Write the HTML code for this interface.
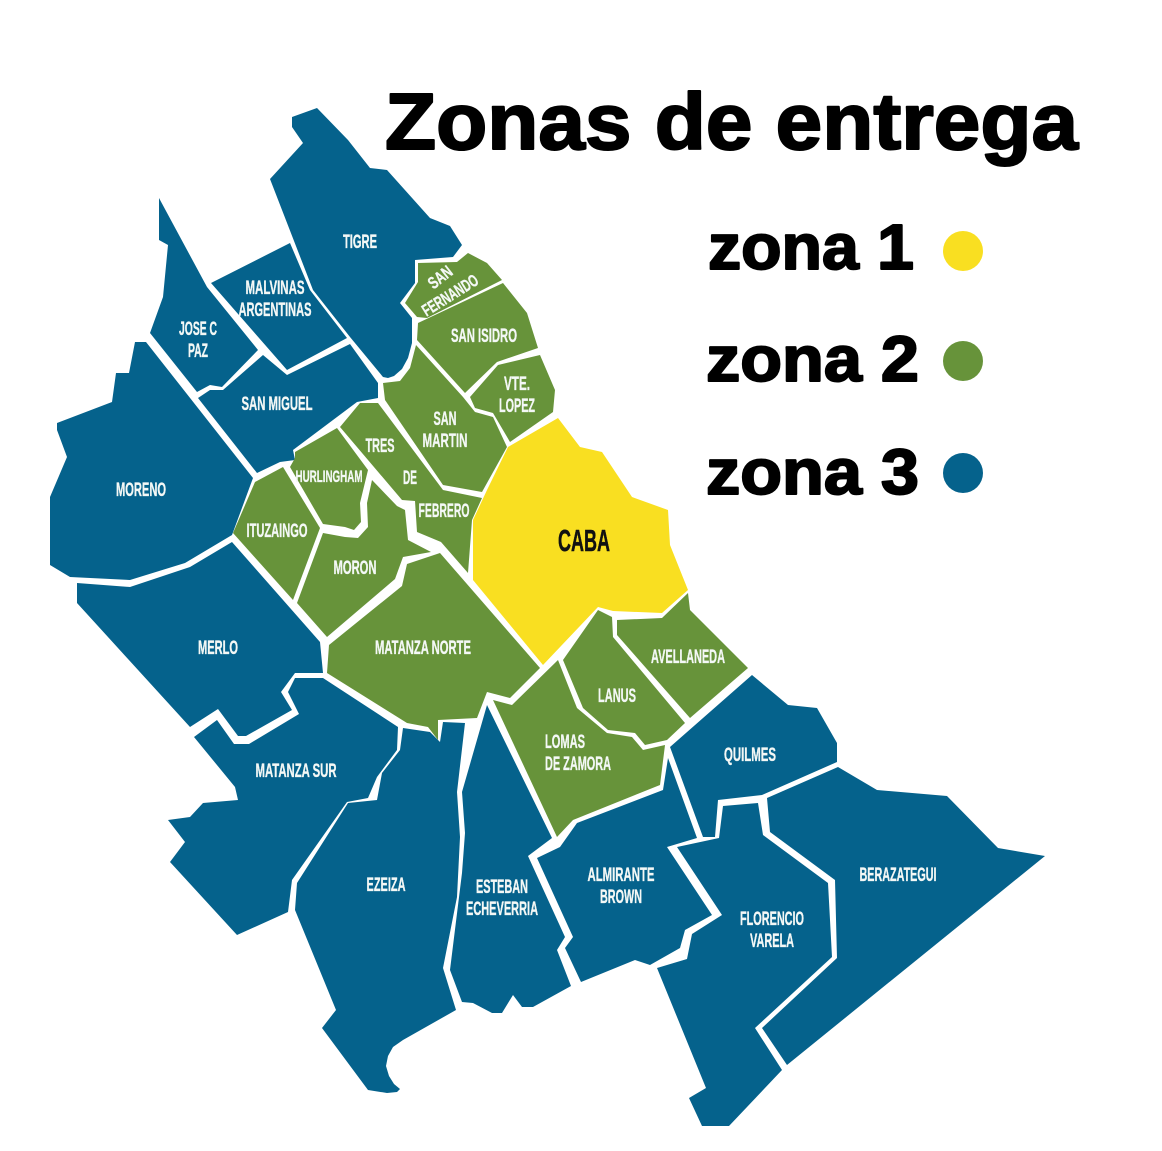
<!DOCTYPE html>
<html lang="es">
<head>
<meta charset="utf-8">
<title>Zonas de entrega</title>
<style>
html,body{margin:0;padding:0;background:#fff;width:1162px;height:1151px;overflow:hidden}
svg{display:block}
.z3{fill:#05628c}
.z2{fill:#67933a}
.z1{fill:#f9df21}
.lb{font-family:"Liberation Sans Narrow","Liberation Sans",sans-serif;font-weight:700;font-size:19px;fill:#f4f8f6;stroke:#f4f8f6;stroke-width:.35px;text-anchor:middle}
.hd{font-family:"Liberation Sans",sans-serif;font-weight:700;fill:#000;stroke:#000;stroke-linejoin:round}
</style>
</head>
<body>
<svg width="1162" height="1151" viewBox="0 0 1162 1151" xmlns="http://www.w3.org/2000/svg">
<rect width="1162" height="1151" fill="#fff"/>

<g>
<polygon class="z3" points="292,117 317,108 348,140 370,168 387,170 430,218 450,226 462,245 453,257 415,260 415,283 400,303 412,318 412,343 408,358 402,369 394,376 388,378 383,377 350,337 313,290 270,179 303,143 292,127"/>
<polygon class="z3" points="159,198 207,287 258,350 222,387 210,385 197,392 150,333 163,297 168,245 159,240"/>
<polygon class="z3" points="290,243 310,290 347,338 287,370 211,283"/>
<polygon class="z3" points="350,344 378,383 378,398 357,402 293,450 295,460 280,462 257,473 198,398 210,390 223,390 263,355 287,375"/>
<polygon class="z3" points="146,342 135,342 129,373 116,373 112,402 57,423 57,430 67,457 50,497 50,565 70,577 130,580 185,563 232,535 253,478"/>
<polygon class="z3" points="232,542 320,642 323,673 295,673 281,692 292,710 246,736 238,736 218,709 190,727 77,603 77,583 130,587 190,567"/>
<polygon class="z3" points="295,678 323,678 398,727 397,750 377,777 368,798 347,802 292,880 288,912 237,935 170,862 185,842 168,820 190,817 203,803 238,800 235,787 194,737 217,720 234,744 249,744 299,714 288,692"/>
<polygon class="z3" points="403,728 430,732 440,742 443,722 465,723 457,792 460,837 457,897 443,968 456,1010 403,1040 393,1047 388,1056 386,1066 389,1076 394,1084 400,1089 397,1092 387,1093 368,1090 322,1028 336,1010 295,910 297,883 348,803 377,800 382,773 400,750"/>
<polygon class="z3" points="487,705 552,838 528,856 565,937 557,950 571,986 533,1007 522,1007 513,995 502,1013 492,1013 473,1003 462,1002 450,970 462,873 465,833 462,792"/>
<polygon class="z3" points="537,858 560,847 577,823 663,790 668,758 697,838 667,847 712,915 685,930 680,948 650,965 635,960 581,982 565,948 573,937"/>
<polygon class="z3" points="752,675 788,705 817,708 837,743 837,762 762,795 718,800 715,837 703,837 670,747"/>
<polygon class="z3" points="838,767 877,790 947,796 998,848 1045,856 787,1065 762,1028 837,958 835,880 770,832 767,798"/>
<polygon class="z3" points="723,806 758,803 763,835 828,883 832,957 755,1028 782,1070 729,1126 702,1126 689,1098 706,1088 657,968 687,959 692,934 722,915 677,847 719,838"/>
</g>

<g>
<polygon class="z2" points="418,263 457,262 468,253 487,263 502,280 427,318 417,317 405,303 418,282"/>
<polygon class="z2" points="418,323 503,283 527,313 538,348 497,362 465,393 417,340"/>
<polygon class="z2" points="540,355 555,390 553,412 510,442 493,413 475,408 470,397 498,365"/>
<polygon class="z2" points="383,383 400,381 410,368 416,345 463,397 475,412 493,417 507,447 482,492 443,485 385,400"/>
<polygon class="z2" points="360,403 378,403 443,490 482,498 472,520 468,573 441,542 417,532 415,501 402,500 340,427"/>
<polygon class="z2" points="337,428 368,470 360,503 361,522 354,530 345,527 323,524 290,467 295,458 295,452"/>
<polygon class="z2" points="283,467 320,528 293,600 233,533 255,482"/>
<polygon class="z2" points="372,480 397,506 405,510 408,540 431,552 403,557 395,579 327,637 297,603 323,533 345,537 358,538 368,527 367,503"/>
<polygon class="z2" points="440,553 540,668 510,698 487,692 477,718 438,720 438,740 428,727 407,723 327,673 329,645 402,586 407,564"/>
<polygon class="z2" points="493,700 512,705 558,660 577,708 607,733 632,737 643,750 665,745 660,785 573,820 557,837"/>
<polygon class="z2" points="598,610 612,617 613,637 685,723 667,740 645,745 635,733 608,730 583,708 563,660"/>
<polygon class="z2" points="688,593 690,610 748,668 690,718 617,635 617,620 662,618"/>
</g>

<polygon class="z1" points="558,418 580,447 602,452 632,497 668,510 670,545 688,590 662,613 613,611 598,607 543,665 473,580 473,520 487,490 508,447"/>

<g>
<text class="lb" x="360" y="248" textLength="34" lengthAdjust="spacingAndGlyphs">TIGRE</text>
<text class="lb" x="275" y="294" textLength="59" lengthAdjust="spacingAndGlyphs">MALVINAS</text>
<text class="lb" x="275" y="316" textLength="73" lengthAdjust="spacingAndGlyphs">ARGENTINAS</text>
<text class="lb" x="198" y="335" textLength="38" lengthAdjust="spacingAndGlyphs">JOSE C</text>
<text class="lb" x="198" y="357" textLength="20" lengthAdjust="spacingAndGlyphs">PAZ</text>
<text class="lb" x="277" y="410" textLength="71" lengthAdjust="spacingAndGlyphs">SAN MIGUEL</text>
<text class="lb" x="141" y="496" textLength="50" lengthAdjust="spacingAndGlyphs">MORENO</text>
<text class="lb" transform="translate(440,277) rotate(-38)" y="6" textLength="26" lengthAdjust="spacingAndGlyphs" style="font-size:17px">SAN</text>
<text class="lb" transform="translate(450,295) rotate(-32)" y="6" textLength="63" lengthAdjust="spacingAndGlyphs" style="font-size:17px">FERNANDO</text>
<text class="lb" x="484" y="342" textLength="66" lengthAdjust="spacingAndGlyphs">SAN ISIDRO</text>
<text class="lb" x="517" y="390" textLength="26" lengthAdjust="spacingAndGlyphs">VTE.</text>
<text class="lb" x="517" y="412" textLength="36" lengthAdjust="spacingAndGlyphs">LOPEZ</text>
<text class="lb" x="445" y="425" textLength="23" lengthAdjust="spacingAndGlyphs">SAN</text>
<text class="lb" x="445" y="447" textLength="45" lengthAdjust="spacingAndGlyphs">MARTIN</text>
<text class="lb" x="380" y="452" textLength="29" lengthAdjust="spacingAndGlyphs">TRES</text>
<text class="lb" x="410" y="484" textLength="14" lengthAdjust="spacingAndGlyphs">DE</text>
<text class="lb" x="444" y="517" textLength="51" lengthAdjust="spacingAndGlyphs">FEBRERO</text>
<text class="lb" x="329" y="482" textLength="67" lengthAdjust="spacingAndGlyphs" style="font-size:17px">HURLINGHAM</text>
<text class="lb" x="277" y="537" textLength="61" lengthAdjust="spacingAndGlyphs">ITUZAINGO</text>
<text class="lb" x="355" y="574" textLength="43" lengthAdjust="spacingAndGlyphs">MORON</text>
<text class="lb" x="584" y="551" textLength="52" lengthAdjust="spacingAndGlyphs" style="font-size:31px;fill:#111;stroke:#111;stroke-width:.5px">CABA</text>
<text class="lb" x="423" y="654" textLength="96" lengthAdjust="spacingAndGlyphs">MATANZA NORTE</text>
<text class="lb" x="688" y="663" textLength="74" lengthAdjust="spacingAndGlyphs">AVELLANEDA</text>
<text class="lb" x="617" y="702" textLength="38" lengthAdjust="spacingAndGlyphs">LANUS</text>
<text class="lb" x="565" y="748" textLength="40" lengthAdjust="spacingAndGlyphs">LOMAS</text>
<text class="lb" x="578" y="770" textLength="66" lengthAdjust="spacingAndGlyphs">DE ZAMORA</text>
<text class="lb" x="218" y="654" textLength="40" lengthAdjust="spacingAndGlyphs">MERLO</text>
<text class="lb" x="296" y="777" textLength="81" lengthAdjust="spacingAndGlyphs">MATANZA SUR</text>
<text class="lb" x="386" y="891" textLength="39" lengthAdjust="spacingAndGlyphs">EZEIZA</text>
<text class="lb" x="502" y="893" textLength="52" lengthAdjust="spacingAndGlyphs">ESTEBAN</text>
<text class="lb" x="502" y="915" textLength="72" lengthAdjust="spacingAndGlyphs">ECHEVERRIA</text>
<text class="lb" x="621" y="881" textLength="67" lengthAdjust="spacingAndGlyphs">ALMIRANTE</text>
<text class="lb" x="621" y="903" textLength="42" lengthAdjust="spacingAndGlyphs">BROWN</text>
<text class="lb" x="750" y="761" textLength="52" lengthAdjust="spacingAndGlyphs">QUILMES</text>
<text class="lb" x="772" y="925" textLength="64" lengthAdjust="spacingAndGlyphs">FLORENCIO</text>
<text class="lb" x="772" y="947" textLength="44" lengthAdjust="spacingAndGlyphs">VARELA</text>
<text class="lb" x="898" y="881" textLength="77" lengthAdjust="spacingAndGlyphs">BERAZATEGUI</text>
</g>

<text class="hd" x="385" y="149" font-size="80" stroke-width="2" textLength="693" lengthAdjust="spacingAndGlyphs">Zonas de entrega</text>

<g>
<g>
<text class="hd" x="708" y="269" font-size="64" stroke-width="2" textLength="206" lengthAdjust="spacingAndGlyphs">zona 1</text>
<circle class="z1" cx="963" cy="251" r="20"/>
</g>
<g>
<text class="hd" x="706" y="381" font-size="64" stroke-width="2" textLength="213" lengthAdjust="spacingAndGlyphs">zona 2</text>
<circle class="z2" cx="963" cy="361" r="20"/>
</g>
<g>
<text class="hd" x="706" y="494" font-size="64" stroke-width="2" textLength="213" lengthAdjust="spacingAndGlyphs">zona 3</text>
<circle class="z3" cx="963" cy="473" r="20"/>
</g>
</g>
</svg>
</body>
</html>
